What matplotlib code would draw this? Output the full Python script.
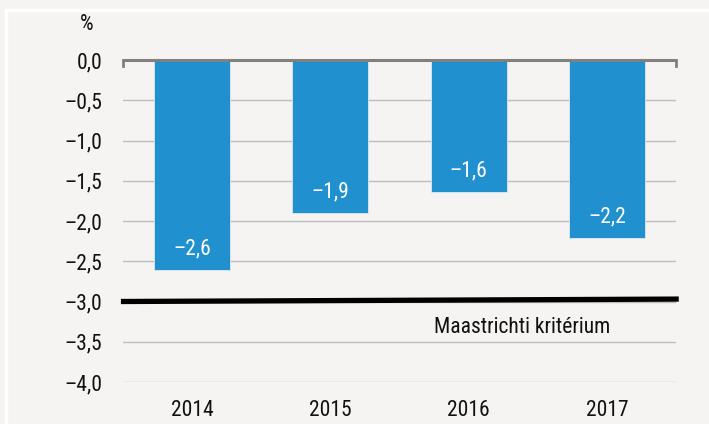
import matplotlib
matplotlib.use("Agg")
import matplotlib.pyplot as plt
from matplotlib.patches import Rectangle

plt.rcParams['font.family'] = ['Roboto Condensed', 'Liberation Sans', 'DejaVu Sans']

# data
years = ['2014', '2015', '2016', '2017']
deficit = [-2.61, -1.90, -1.64, -2.21]
maastricht_x = [-0.515, 3.52]
maastricht_y = [-3.0, -2.97]
yticks = [0.0, -0.5, -1.0, -1.5, -2.0, -2.5, -3.0, -3.5, -4.0]

bg = '#f5f4f2'
blue = '#2190cf'
fs = 15.5

fig = plt.figure(figsize=(7.09, 4.24), dpi=100, facecolor=bg)
fig.patches.append(Rectangle((6 / 709, -0.1), 1.2, 1 - 10 / 424 + 0.1,
                             transform=fig.transFigure, fill=False,
                             edgecolor='white', linewidth=2.5))
ax = fig.add_axes([123 / 709, 1 - 382 / 424, (676 - 123) / 709, (382 - 60) / 424])
ax.set_facecolor(bg)

x = range(len(years))
ax.set_ylim(-4.0, 0.0)
ax.set_xlim(-0.5, 3.5)

for y in yticks[1:]:
    ax.axhline(y, color='#bdbdbd', linewidth=1, zorder=1)

ax.bar(x, deficit, width=0.55, color=blue, edgecolor='#dfe9f0', linewidth=0.6, zorder=2)

for i, v in enumerate(deficit):
    ax.text(i, v + 0.265, ('%.1f' % v).replace('-', '\u2013').replace('.', ','),
            ha='center', va='center', color='white', fontsize=fs, zorder=4)

# zero line with small end ticks
ax.plot([-0.5, 3.5], [0, 0], color='#808080', linewidth=2.2, zorder=3, clip_on=False,
        solid_capstyle='butt')
ax.plot([-0.5, -0.5], [0, -0.07], color='#808080', linewidth=2, zorder=3, clip_on=False)
ax.plot([3.5, 3.5], [0, -0.07], color='#808080', linewidth=2, zorder=3, clip_on=False)

ax.plot(maastricht_x, maastricht_y, color='black', linewidth=3.8, zorder=5,
        clip_on=False, solid_capstyle='butt')
ax.text(2.386, -3.32, 'Maastrichti kritérium', ha='center', va='center',
        fontsize=fs, color='#111111')

ax.set_yticks(yticks)
ax.set_yticklabels([('%.1f' % t).replace('-', '\u2013').replace('.', ',') for t in yticks],
                   fontsize=fs)
ax.set_xticks(list(x))
ax.set_xticklabels(years, fontsize=fs)
ax.tick_params(axis='both', length=0, colors='#111111')
ax.tick_params(axis='y', pad=15)
ax.tick_params(axis='x', pad=13)
for s in ax.spines.values():
    s.set_visible(False)

fig.text(87 / 709, 1 - 25 / 424, '%', ha='center', va='center', fontsize=fs, color='#111111')

fig.savefig('out.png', dpi=100, facecolor=bg)
